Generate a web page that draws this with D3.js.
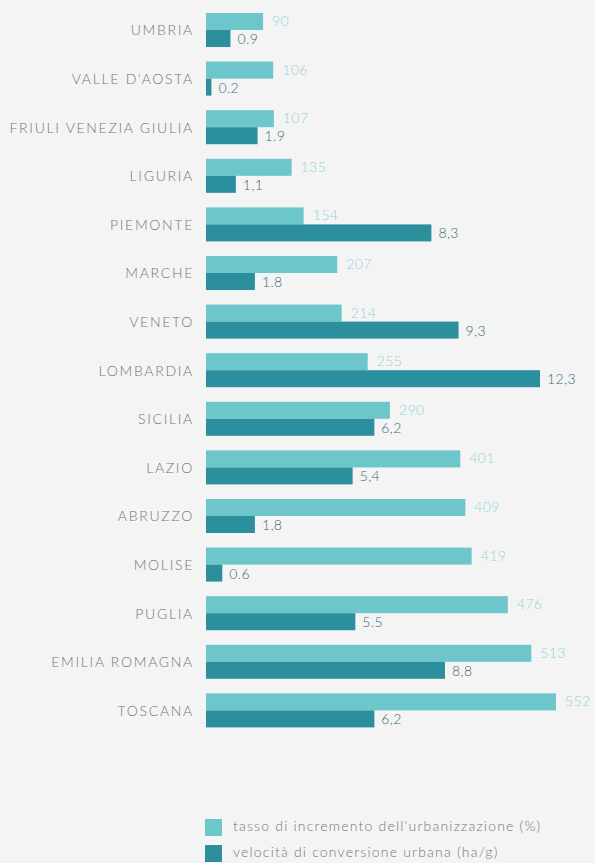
<!DOCTYPE html>
<html>
<head>
<meta charset="utf-8">
<script src="https://cdn.jsdelivr.net/npm/d3@7"></script>
<style>
  html, body { margin: 0; padding: 0; background: #f4f4f4; }
  svg { display: block; }
</style>
</head>
<body>
<svg id="chart" width="595" height="863"></svg>
<script>
const regions = ["UMBRIA", "VALLE D'AOSTA", "FRIULI VENEZIA GIULIA", "LIGURIA", "PIEMONTE", "MARCHE", "VENETO", "LOMBARDIA", "SICILIA", "LAZIO", "ABRUZZO", "MOLISE", "PUGLIA", "EMILIA ROMAGNA", "TOSCANA"];
const tasso = [90, 106, 107, 135, 154, 207, 214, 255, 290, 401, 409, 419, 476, 513, 552];
const velocita = [0.9, 0.2, 1.9, 1.1, 8.3, 1.8, 9.3, 12.3, 6.2, 5.4, 1.8, 0.6, 5.5, 8.8, 6.2];
const velocitaLabels = ["0.9", "0.2", "1.9", "1,1", "8,3", "1.8", "9,3", "12,3", "6,2", "5,4", "1,8", "0.6", "5.5", "8,8", "6,2"];
const seriesNames = ["tasso di incremento dell'urbanizzazione (%)", "velocità di conversione urbana (ha/g)"];

const colLight = "#6cc6ca";
const colDark = "#2b8f9d";
const x0 = 206;

const svg = d3.select("#chart");
const data = regions.map((r, i) => ({ r, t: tasso[i], v: velocita[i], vl: velocitaLabels[i] }));

const y = d3.scaleBand().domain(regions).range([13, 727.4]).paddingInner(0.3).paddingOuter(0);
const sub = d3.scaleBand().domain(["t", "v"]).range([0, y.bandwidth()]);
const xT = d3.scaleLinear().domain([0, 552]).range([x0, x0 + 350]);
const xV = d3.scaleLinear().domain([0, 12.3]).range([x0, x0 + 334]);

const g = svg.append("g");
const row = g.selectAll("g.row").data(data).join("g")
  .attr("class", "row")
  .attr("transform", d => `translate(0,${y(d.r)})`);

row.append("rect")
  .attr("x", xT(0)).attr("y", sub("t"))
  .attr("width", d => xT(d.t) - xT(0)).attr("height", sub.bandwidth())
  .attr("fill", colLight);
row.append("rect")
  .attr("x", xV(0)).attr("y", sub("v"))
  .attr("width", d => xV(d.v) - xV(0)).attr("height", sub.bandwidth())
  .attr("fill", colDark);

const fontFam = "Lato, 'Open Sans', sans-serif";
row.append("text")
  .attr("x", d => xT(d.t) + 9).attr("y", sub("t") + sub.bandwidth() / 2 + 1)
  .attr("dominant-baseline", "middle")
  .attr("font-family", fontFam).attr("font-weight", 300).attr("font-size", 14)
  .attr("letter-spacing", 0.4)
  .attr("fill", "#92d4d7")
  .text(d => d.t);
row.append("text")
  .attr("x", d => xV(d.v) + 7).attr("y", sub("v") + sub.bandwidth() / 2 + 2)
  .attr("dominant-baseline", "middle")
  .attr("font-family", fontFam).attr("font-weight", 300).attr("font-size", 14)
  .attr("letter-spacing", 0.4)
  .attr("fill", "#3c6a75")
  .text(d => d.vl);
row.append("text")
  .attr("x", 194).attr("y", sub("v") + 2)
  .attr("text-anchor", "end").attr("dominant-baseline", "middle")
  .attr("font-family", fontFam).attr("font-weight", 300).attr("font-size", 14)
  .attr("letter-spacing", 1.7)
  .attr("fill", "#747474")
  .text(d => d.r);

// legend
const leg = svg.append("g").selectAll("g").data(seriesNames).join("g")
  .attr("transform", (d, i) => `translate(205,${819 + i * 26})`);
leg.append("rect").attr("width", 17).attr("height", 17)
  .attr("fill", (d, i) => i === 0 ? colLight : colDark);
leg.append("text").attr("x", 28).attr("y", 9)
  .attr("dominant-baseline", "middle")
  .attr("font-family", fontFam).attr("font-weight", 300).attr("font-size", 14)
  .attr("letter-spacing", 1.2)
  .attr("fill", "#777")
  .text(d => d);
</script>
</body>
</html>
